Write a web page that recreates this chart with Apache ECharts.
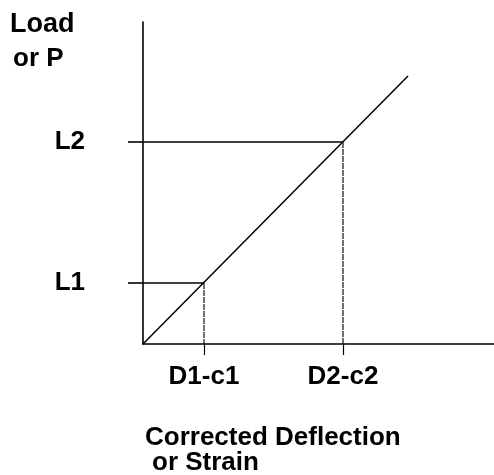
<!DOCTYPE html>
<html>
<head>
<meta charset="utf-8">
<script src="https://cdn.jsdelivr.net/npm/echarts@6/dist/echarts.min.js"></script>
<style>
  html, body { margin: 0; padding: 0; background: #ffffff; }
  #chart { width: 494px; height: 475px; }
</style>
</head>
<body>
<div id="chart"></div>
<script>
// values (1 unit ~ 1px)
const deflections = [61, 200];          // D1-c1, D2-c2
const loads = [61, 202];                // L1, L2
const deflectionLabels = ["D1-c1", "D2-c2"];
const loadLabels = ["L1", "L2"];
const curveX = [0, 265];
const curveY = [0, 268];
const xMax = 351;
const yMax = 322;

const font = "Liberation Sans, Arial, sans-serif";
const ink = "#000000";

const chart = echarts.init(document.getElementById("chart"), null, { renderer: "canvas" });

// horizontal guide (axis -> point) and vertical drop (point -> axis)
const guides = [];
loads.forEach((l, i) => {
  guides.push({
    type: "line",
    data: [[0, l], [deflections[i], l]],
    symbol: "none",
    clip: false,
    silent: true,
    lineStyle: { color: ink, width: 1.6 }
  });
  guides.push({
    type: "line",
    data: [[deflections[i], l], [deflections[i], 0]],
    symbol: "none",
    clip: false,
    silent: true,
    lineStyle: { color: "#111", width: 1.2, type: [6, 1] }
  });
});

const option = {
  animation: false,
  backgroundColor: "#ffffff",
  grid: { left: 143, top: 22, right: 0, bottom: 131 },
  xAxis: {
    type: "value",
    min: 0,
    max: xMax,
    splitLine: { show: false },
    axisLine: { show: true, lineStyle: { color: ink, width: 1.6 } },
    axisTick: {
      show: true,
      customValues: deflections,
      length: 11,
      lineStyle: { color: ink, width: 1.2 }
    },
    axisLabel: {
      show: true,
      customValues: deflections,
      margin: 20,
      formatter: (v) => deflectionLabels[deflections.indexOf(v)] || "",
      color: ink,
      fontFamily: font,
      fontWeight: "bold",
      fontSize: 26
    }
  },
  yAxis: {
    type: "value",
    min: 0,
    max: yMax,
    splitLine: { show: false },
    axisLine: { show: true, lineStyle: { color: ink, width: 1.6 } },
    axisTick: {
      show: true,
      customValues: loads,
      length: 15,
      lineStyle: { color: ink, width: 1.6 }
    },
    axisLabel: {
      show: true,
      customValues: loads,
      margin: 58,
      formatter: (v) => loadLabels[loads.indexOf(v)] || "",
      color: ink,
      fontFamily: font,
      fontWeight: "bold",
      fontSize: 26
    }
  },
  graphic: [
    { type: "text", left: 10, top: 11, style: { text: "Load", font: "bold 27px " + font, fill: ink } },
    { type: "text", left: 13, top: 46, style: { text: "or P", font: "bold 26px " + font, fill: ink } },
    { type: "text", left: 145, top: 425, style: { text: "Corrected Deflection", font: "bold 26px " + font, fill: ink } },
    { type: "text", left: 152, top: 450, style: { text: "or Strain", font: "bold 26px " + font, fill: ink } }
  ],
  series: [
    {
      type: "line",
      data: curveX.map((x, i) => [x, curveY[i]]),
      symbol: "none",
      clip: false,
      silent: true,
      lineStyle: { color: ink, width: 1.5 }
    }
  ].concat(guides)
};

chart.setOption(option);
</script>
</body>
</html>
